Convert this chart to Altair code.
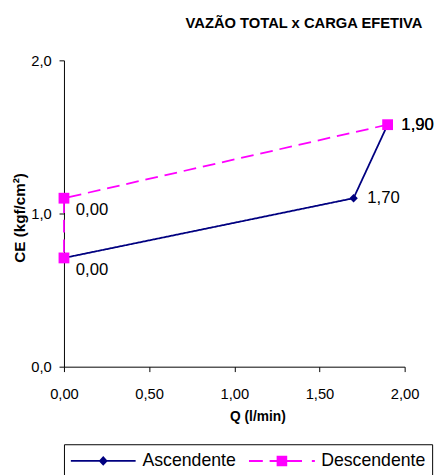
import altair as alt
import pandas as pd

series_names = ["Ascendente", "Descendente"]
series_colors = ["#000080", "#FF00FF"]
series_markers = ["diamond", "square"]
series_marker_sizes = [75, 121]

asc_q = [0.00, 1.70, 1.90]
asc_ce = [0.71, 1.10, 1.58]
desc_q = [1.90, 0.00, 0.00]
desc_ce = [1.58, 1.10, 0.71]
asc_label_pos = ["", "right", "right"]
desc_label_pos = ["right", "below", "below"]

x_ticks = [0.0, 0.5, 1.0, 1.5, 2.0]
y_ticks = [0.0, 1.0, 2.0]

rows = []
for i, (q, ce, lp) in enumerate(zip(asc_q, asc_ce, asc_label_pos)):
    rows.append({"serie": "Ascendente", "ordem": i, "q": q, "ce": ce, "pos": lp})
for i, (q, ce, lp) in enumerate(zip(desc_q, desc_ce, desc_label_pos)):
    rows.append({"serie": "Descendente", "ordem": i, "q": q, "ce": ce, "pos": lp})
df = pd.DataFrame(rows)

FONT = "Liberation Sans, Arial, sans-serif"
DASH = [13, 7]

x_enc = alt.X(
    "q:Q",
    scale=alt.Scale(domain=[0, 2], nice=False, zero=False),
    axis=alt.Axis(
        values=x_ticks,
        labelExpr="replace(format(datum.value, '.2f'), '.', ',')",
        labelFlush=False,
        labelPadding=15,
        title="Q (l/min)",
        titleX=197,
        titleY=51,
        titleBaseline="middle",
        titleAlign="center",
        titleFontSize=14,
    ),
)
y_enc = alt.Y(
    "ce:Q",
    scale=alt.Scale(domain=[0, 2], nice=False),
    axis=alt.Axis(
        values=y_ticks,
        labelExpr="replace(format(datum.value, '.1f'), '.', ',')",
        labelFlush=False,
        labelPadding=8,
        title="CE (kgf/cm²)",
        titleX=-45,
        titleY=160,
        titleAngle=270,
        titleBaseline="middle",
        titleAlign="center",
        titleFontSize=15.5,
    ),
)

# legend glyphs (filled paths, unit = sqrt(symbolSize)/2 px): line + marker
asc_glyph = "M-3,-0.08L3,-0.08L3,0.08L-3,0.08Z M0,-0.45L0.42,0L0,0.45L-0.42,0Z"
desc_glyph = (
    "M-3.05,-0.09L-1.77,-0.09L-1.77,0.09L-3.05,0.09Z "
    "M-1.14,-0.09L1.86,-0.09L1.86,0.09L-1.14,0.09Z "
    "M2.77,-0.09L3.05,-0.09L3.05,0.09L2.77,0.09Z "
    "M-0.49,-0.49L0.49,-0.49L0.49,0.49L-0.49,0.49Z"
)

is_asc = "datum.value === 'Ascendente'"
legend = alt.Legend(
    title=None,
    orient="none",
    legendX=0,
    legendY=391,
    direction="horizontal",
    labelFont=FONT,
    labelFontSize=18,
    labelColor="black",
    labelLimit=300,
    symbolSize=484,
    symbolOffset=23,
    labelOffset=29,
    columnPadding=12,
    padding=6,
    strokeColor="black",
    fillColor="white",
    symbolType=alt.ExprRef(is_asc + " ? '" + asc_glyph + "' : '" + desc_glyph + "'"),
    symbolFillColor=alt.ExprRef(is_asc + " ? '#000080' : '#FF00FF'"),
    symbolStrokeColor="transparent",
    symbolStrokeWidth=0,
    symbolOpacity=1,
)

lines = alt.Chart(df).mark_line(strokeWidth=1.8).encode(
    x=x_enc,
    y=y_enc,
    color=alt.Color(
        "serie:N",
        scale=alt.Scale(domain=series_names, range=series_colors),
        legend=legend,
    ),
    strokeDash=alt.StrokeDash(
        "serie:N",
        scale=alt.Scale(domain=series_names, range=[[1, 0], DASH]),
        legend=None,
    ),
    order="ordem:Q",
)

marker_layers = []
for name, col, shp, sz in zip(series_names, series_colors, series_markers, series_marker_sizes):
    marker_layers.append(
        alt.Chart(df)
        .transform_filter(alt.datum.serie == name)
        .mark_point(filled=True, opacity=1, strokeWidth=0, shape=shp, size=sz, color=col)
        .encode(x=x_enc, y=y_enc)
    )

label_expr = "replace(format(datum.q, '.2f'), '.', ',')"

labels_right = (
    alt.Chart(df)
    .transform_filter("datum.pos === 'right'")
    .transform_calculate(lbl=label_expr)
    .mark_text(align="left", baseline="middle", dx=14, font=FONT, fontSize=17, color="black")
    .encode(x="q:Q", y="ce:Q", text="lbl:N")
)
labels_below = (
    alt.Chart(df)
    .transform_filter("datum.pos === 'below'")
    .transform_calculate(lbl=label_expr)
    .mark_text(align="left", baseline="middle", dx=12, dy=12, font=FONT, fontSize=17, color="black")
    .encode(x="q:Q", y="ce:Q", text="lbl:N")
)

chart = (
    alt.layer(lines, *marker_layers, labels_right, labels_below)
    .properties(
        width=347,
        height=312,
        autosize=alt.AutoSizeParams(type="none"),
        padding={"left": 57, "top": 49, "right": 36, "bottom": 106},
        title=alt.TitleParams(
            text="VAZÃO TOTAL x CARGA EFETIVA",
            font=FONT,
            fontSize=15,
            fontWeight="bold",
            color="black",
            anchor="middle",
            frame="group",
            baseline="alphabetic",
            dx=71,
            offset=11,
        ),
    )
    .configure_view(stroke=None)
    .configure_axis(
        grid=False,
        domainColor="black",
        tickColor="black",
        tickSize=5,
        labelColor="black",
        titleColor="black",
        labelFont=FONT,
        labelFontSize=15,
        titleFont=FONT,
        titleFontWeight="bold",
    )
)

chart.save("out.html", embed_options={"renderer": "svg", "actions": False})
